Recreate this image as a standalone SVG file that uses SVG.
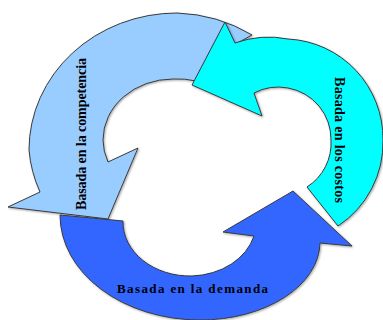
<svg xmlns="http://www.w3.org/2000/svg" width="383" height="320" viewBox="0 0 383 320">
<defs>
<filter id="sh" x="-10%" y="-10%" width="120%" height="120%">
<feDropShadow dx="1" dy="1" stdDeviation="1" flood-color="#000" flood-opacity="0.35"/>
</filter>
</defs>
<style>
.arrow{stroke:#3a3a3a;stroke-width:1;stroke-linejoin:miter;filter:url(#sh)}
.lbl{font-family:"Liberation Serif","Times New Roman",serif;font-weight:bold;fill:#000}
</style>
<rect width="383" height="320" fill="#ffffff"/>
<g id="competencia">
<path class="arrow" fill="#99CCFF" d="M252,35 A148,137 0 0 0 177,13 A148,137 0 0 0 29,150 A148,137 0 0 0 40,192 L8,207 L108,219 L138,148 L108,162 A70,61 0 0 1 103,140 A70,61 0 0 1 173,79 A70,61 0 0 1 196,81 L232,46 Z"/>
<text class="lbl" font-size="14" text-anchor="middle" transform="translate(86,134) rotate(-90)" textLength="152" lengthAdjust="spacing">Basada en la competencia</text>
</g>
<g id="costos">
<path class="arrow" fill="#00FFFF" d="M192,85 L225,22 L235,43 A100,100 0 0 1 288,39 A100,100 0 0 1 383,140 A100,100 0 0 1 338,226 L307,187 A52,52 0 0 0 331,140 A52,52 0 0 0 288,88 A52,52 0 0 0 254,93 L262,116 Z"/>
<text class="lbl" font-size="14" text-anchor="middle" transform="translate(335,140) rotate(90)" textLength="126" lengthAdjust="spacing">Basada en los costos</text>
</g>
<g id="demanda">
<path class="arrow" fill="#3366FF" d="M60,215 A140,105 0 0 0 200,320 A120,78 0 0 0 320,243 L352,246 L293,191 L223,232 L254,236 A67,54 0 0 1 192,276 A67,54 0 0 1 123,221 Z"/>
<text class="lbl" font-size="13" text-anchor="middle" x="192.5" y="293" textLength="151" lengthAdjust="spacing">Basada en la demanda</text>
</g>
<g id="connectors"/>
</svg>
